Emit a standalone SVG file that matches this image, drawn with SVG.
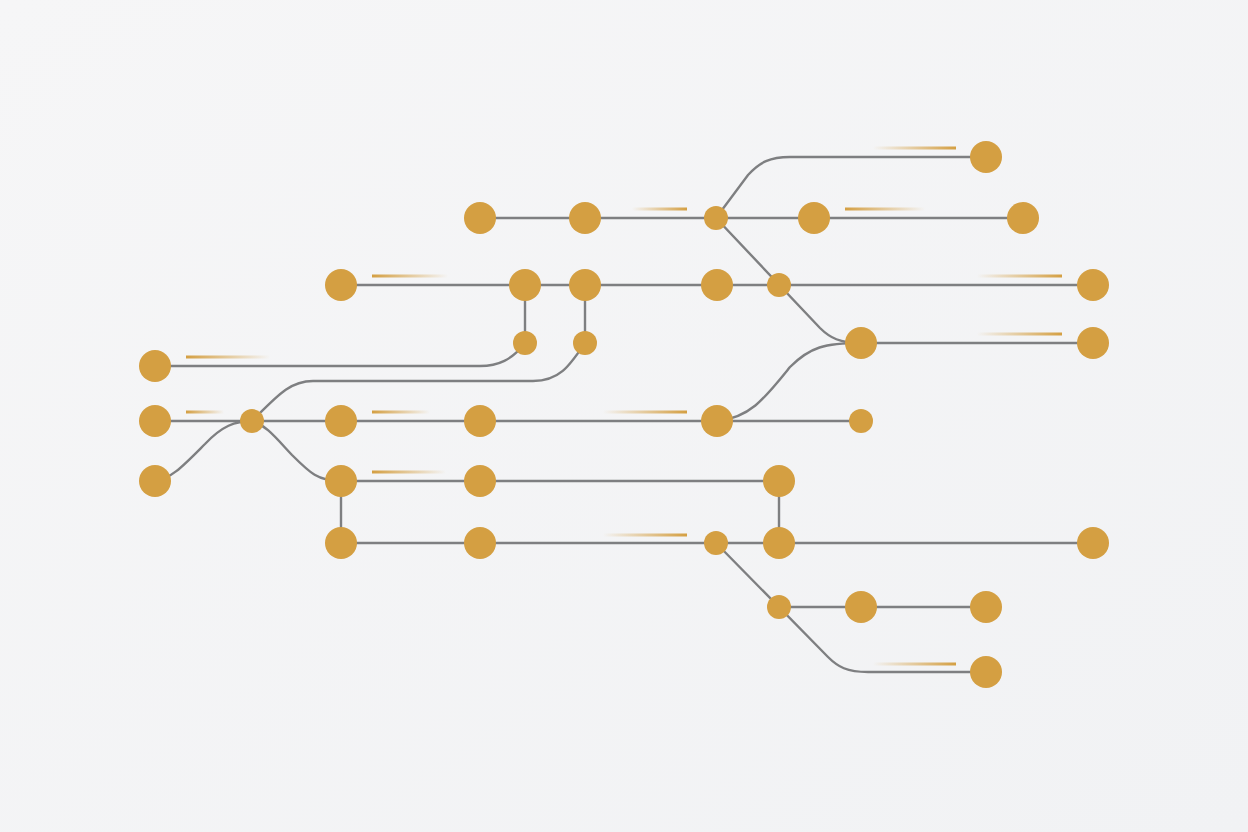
<svg xmlns="http://www.w3.org/2000/svg" width="1248" height="832" viewBox="0 0 1248 832">
<defs>
<linearGradient id="bg" x1="0" y1="0" x2="1" y2="1">
<stop offset="0" stop-color="#F6F6F7"/>
<stop offset="1" stop-color="#F1F2F4"/>
</linearGradient>
<linearGradient id="fadeR" x1="0" y1="0" x2="1" y2="0">
<stop offset="0" stop-color="#D49F42" stop-opacity="1"/>
<stop offset="1" stop-color="#D49F42" stop-opacity="0"/>
</linearGradient>
<linearGradient id="fadeL" x1="0" y1="0" x2="1" y2="0">
<stop offset="0" stop-color="#D49F42" stop-opacity="0"/>
<stop offset="1" stop-color="#D49F42" stop-opacity="1"/>
</linearGradient>
</defs>
<style>
.ln{fill:none;stroke:#7E7F81;stroke-width:2.4;stroke-linecap:round}
.nd{fill:#D49F42}
</style>
<rect width="1248" height="832" fill="url(#bg)"/>
<g id="connectors">
<path class="ln" d="M480,218 L1023,218"/>
<path class="ln" d="M716,218 L748,175 C760,162 770,157 790,157 L986,157"/>
<path class="ln" d="M716,218 L820,328 C830,338 840,343 861,343"/>
<path class="ln" d="M341,285 L1093,285"/>
<path class="ln" d="M525,285 L525,343"/>
<path class="ln" d="M585,285 L585,343"/>
<path class="ln" d="M861,343 L1093,343"/>
<path class="ln" d="M525,343 C512,360 498,366 480,366 L155,366"/>
<path class="ln" d="M585,343 C570,365 560,381 533,381 L313,381 C290,381 278,395 252,421"/>
<path class="ln" d="M155,421 L861,421"/>
<path class="ln" d="M717,421 C750,418 765,398 790,367 C810,347 825,343 861,343"/>
<path class="ln" d="M155,481 C172,478 182,467 205,444 C222,426 235,421 252,421"/>
<path class="ln" d="M252,421 C266,425 276,438 292,455 C310,473 318,481 341,481"/>
<path class="ln" d="M341,481 L779,481"/>
<path class="ln" d="M341,481 L341,543"/>
<path class="ln" d="M779,481 L779,543"/>
<path class="ln" d="M341,543 L1093,543"/>
<path class="ln" d="M716,543 L828,657 C838,667 847,672 868,672 L986,672"/>
<path class="ln" d="M779,607 L986,607"/>
</g>
<g id="accents">
<rect x="186" y="355.5" width="84" height="3" fill="url(#fadeR)"/>
<rect x="186" y="410.5" width="38" height="3" fill="url(#fadeR)"/>
<rect x="372" y="410.5" width="58" height="3" fill="url(#fadeR)"/>
<rect x="372" y="470.5" width="74" height="3" fill="url(#fadeR)"/>
<rect x="372" y="274.5" width="76" height="3" fill="url(#fadeR)"/>
<rect x="632" y="207.5" width="55" height="3" fill="url(#fadeL)"/>
<rect x="845" y="207.5" width="80" height="3" fill="url(#fadeR)"/>
<rect x="873" y="146.5" width="83" height="3" fill="url(#fadeL)"/>
<rect x="977" y="274.5" width="85" height="3" fill="url(#fadeL)"/>
<rect x="977" y="332.5" width="85" height="3" fill="url(#fadeL)"/>
<rect x="603" y="410.5" width="84" height="3" fill="url(#fadeL)"/>
<rect x="603" y="533.5" width="84" height="3" fill="url(#fadeL)"/>
<rect x="873" y="662.5" width="83" height="3" fill="url(#fadeL)"/>
</g>
<g id="n1"><circle class="nd" cx="986" cy="157" r="16"/></g>
<g id="n2"><circle class="nd" cx="480" cy="218" r="16"/></g>
<g id="n3"><circle class="nd" cx="585" cy="218" r="16"/></g>
<g id="n4"><circle class="nd" cx="716" cy="218" r="12"/></g>
<g id="n5"><circle class="nd" cx="814" cy="218" r="16"/></g>
<g id="n6"><circle class="nd" cx="1023" cy="218" r="16"/></g>
<g id="n7"><circle class="nd" cx="341" cy="285" r="16"/></g>
<g id="n8"><circle class="nd" cx="525" cy="285" r="16"/></g>
<g id="n9"><circle class="nd" cx="585" cy="285" r="16"/></g>
<g id="n10"><circle class="nd" cx="717" cy="285" r="16"/></g>
<g id="n11"><circle class="nd" cx="779" cy="285" r="12"/></g>
<g id="n12"><circle class="nd" cx="1093" cy="285" r="16"/></g>
<g id="n13"><circle class="nd" cx="525" cy="343" r="12"/></g>
<g id="n14"><circle class="nd" cx="585" cy="343" r="12"/></g>
<g id="n15"><circle class="nd" cx="861" cy="343" r="16"/></g>
<g id="n16"><circle class="nd" cx="1093" cy="343" r="16"/></g>
<g id="n17"><circle class="nd" cx="155" cy="366" r="16"/></g>
<g id="n18"><circle class="nd" cx="155" cy="421" r="16"/></g>
<g id="n19"><circle class="nd" cx="252" cy="421" r="12"/></g>
<g id="n20"><circle class="nd" cx="341" cy="421" r="16"/></g>
<g id="n21"><circle class="nd" cx="480" cy="421" r="16"/></g>
<g id="n22"><circle class="nd" cx="717" cy="421" r="16"/></g>
<g id="n23"><circle class="nd" cx="861" cy="421" r="12"/></g>
<g id="n24"><circle class="nd" cx="155" cy="481" r="16"/></g>
<g id="n25"><circle class="nd" cx="341" cy="481" r="16"/></g>
<g id="n26"><circle class="nd" cx="480" cy="481" r="16"/></g>
<g id="n27"><circle class="nd" cx="779" cy="481" r="16"/></g>
<g id="n28"><circle class="nd" cx="341" cy="543" r="16"/></g>
<g id="n29"><circle class="nd" cx="480" cy="543" r="16"/></g>
<g id="n30"><circle class="nd" cx="716" cy="543" r="12"/></g>
<g id="n31"><circle class="nd" cx="779" cy="543" r="16"/></g>
<g id="n32"><circle class="nd" cx="1093" cy="543" r="16"/></g>
<g id="n33"><circle class="nd" cx="779" cy="607" r="12"/></g>
<g id="n34"><circle class="nd" cx="861" cy="607" r="16"/></g>
<g id="n35"><circle class="nd" cx="986" cy="607" r="16"/></g>
<g id="n36"><circle class="nd" cx="986" cy="672" r="16"/></g>
</svg>
